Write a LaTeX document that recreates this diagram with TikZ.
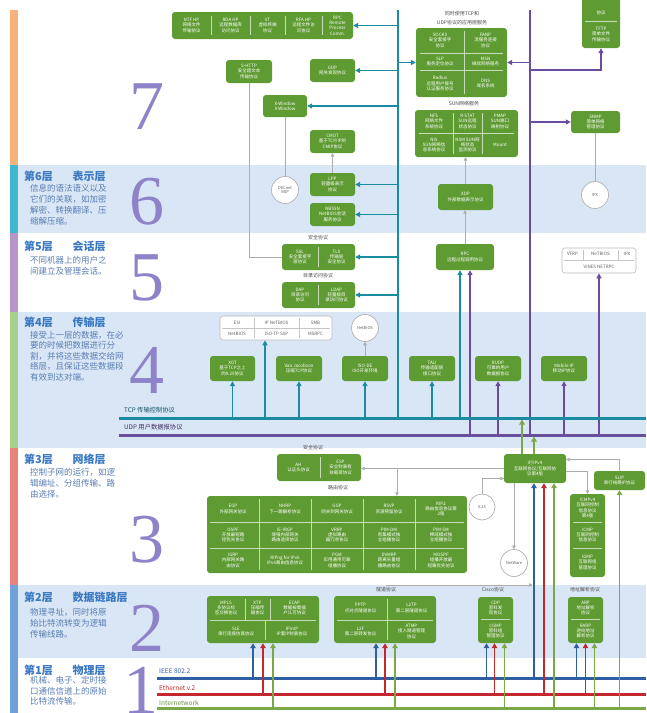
\documentclass[tikz,border=0pt]{standalone}
\usepackage{fontspec}
\setmainfont{Noto Sans CJK SC}
\newfontfamily\numfont{Liberation Serif}
\usetikzlibrary{arrows.meta,calc}
\definecolor{gbx}{HTML}{5E9C33}
\definecolor{tealc}{HTML}{1A8BA0}
\definecolor{purp}{HTML}{6A4D9C}
\definecolor{bandblue}{HTML}{D9E6F6}
\definecolor{numc}{HTML}{8E83C9}
\definecolor{titc}{HTML}{3A79C2}
\definecolor{descc}{HTML}{5A7DB3}
\definecolor{blu}{HTML}{2E5FA3}
\definecolor{redc}{HTML}{C4282E}
\definecolor{grn}{HTML}{7AA847}
\definecolor{sseven}{HTML}{F7B27A}
\definecolor{ssix}{HTML}{3DB8CF}
\definecolor{sfive}{HTML}{B794C9}
\definecolor{sfour}{HTML}{A8D08D}
\definecolor{sthree}{HTML}{E8837A}
\definecolor{stwo}{HTML}{6FA0D8}
\newcommand\bt{\fontsize{4.5}{5.4}\selectfont}
\newcommand\bts{\fontsize{4}{4.8}\selectfont}
\newcommand\bx[7]{\node[#6, minimum width={(#4)-(#2)}, minimum height={(#5)-(#3)}] (#1) at ({((#2)+(#4))/2},{((#3)+(#5))/2}) {#7};}
\begin{document}
\begin{tikzpicture}[x=1pt,y=-1pt,
 gb/.style={fill=gbx, rounded corners=3pt, inner sep=0pt, text=white, font=\bt, align=center},
 ct/.style={text=white, font=\bt, align=center, inner sep=0pt},
 wb/.style={draw=gray!55, fill=white, rounded corners=3pt, line width=0.6pt, inner sep=0pt},
 wt/.style={text=gray!75!black, font=\bt, align=center, inner sep=0pt},
 circ/.style={circle, draw=gray!60, fill=white, line width=0.7pt, text=gray!75!black, font=\bts, inner sep=0pt, minimum size=27pt, align=center},
 dv/.style={draw=white!65!gbx, line width=0.5pt},
 wdv/.style={draw=gray!45, line width=0.5pt},
 numstyle/.style={text=numc, font=\numfont\fontsize{70}{70}\selectfont, inner sep=0pt},
 ttl/.style={text=titc, font=\bfseries\fontsize{11}{13}\selectfont, anchor=west, inner sep=0pt},
 dsc/.style={text=descc, font=\fontsize{8.5}{11}\selectfont, anchor=north west, align=left, inner sep=0pt},
 lbl/.style={text=gray!60!black, font=\fontsize{5}{6}\selectfont, inner sep=0pt},
 tline/.style={draw=tealc, line width=1.6pt},
 pline/.style={draw=purp, line width=1.6pt},
 tarr/.style={tline, -{Triangle[length=5pt,width=5pt]}},
 parr/.style={pline, -{Triangle[length=5pt,width=5pt]}},
 garr/.style={draw=gray!65, line width=0.6pt, -{Triangle[length=3.5pt,width=3.5pt]}},
 gline/.style={draw=gray!65, line width=0.6pt},
 barr/.style={draw=blu, line width=1.8pt, -{Triangle[length=5pt,width=5.5pt]}},
 rarr/.style={draw=redc, line width=1.8pt, -{Triangle[length=5pt,width=5.5pt]}},
 narr/.style={draw=grn, line width=1.8pt, -{Triangle[length=5pt,width=5.5pt]}}
]
\useasboundingbox (0,0) rectangle (646,713);
\clip (0,0) rectangle (646,713);
\fill[white] (0,0) rectangle (646,713);
% bands
\fill[bandblue] (18,165) rectangle (646,233);
\fill[bandblue] (18,312) rectangle (646,448);
\fill[bandblue] (18,585) rectangle (646,658);
% stripes
\fill[sseven] (10,10) rectangle (18,165);
\fill[ssix] (10,165) rectangle (18,233);
\fill[sfive] (10,233) rectangle (18,312);
\fill[sfour] (10,312) rectangle (18,448);
\fill[sthree] (10,448) rectangle (18,585);
\fill[stwo] (10,585) rectangle (18,713);
% numerals
\node[numstyle] (n7) at (147,107) {7};
\node[numstyle] (n6) at (147,202) {6};
\node[numstyle] (n5) at (147,278) {5};
\node[numstyle] (n4) at (147,370) {4};
\node[numstyle] (n3) at (147,540) {3};
\node[numstyle] (n2) at (147,628) {2};
\node[numstyle] (n1) at (141,690) {1};
% titles
\node[ttl] (t6) at (24,176) {第6层\hspace{1.8em}表示层};
\node[dsc] (d6) at (30,184) {信息的语法语义以及\\它们的关联，如加密\\解密、转换翻译、压\\缩解压缩。};
\node[ttl] (t5) at (24,246) {第5层\hspace{1.8em}会话层};
\node[dsc] (d5) at (30,256) {不同机器上的用户之\\间建立及管理会话。};
\node[ttl] (t4) at (24,322) {第4层\hspace{1.8em}传输层};
\node[dsc,font=\fontsize{8.5}{10.5}\selectfont] (d4) at (30,331) {接受上一层的数据，在必\\要的时候把数据进行分\\割，并将这些数据交给网\\络层，且保证这些数据段\\有效到达对端。};
\node[ttl] (t3) at (24,459) {第3层\hspace{1.8em}网络层};
\node[dsc] (d3) at (30,468) {控制子网的运行，如逻\\辑编址、分组传输、路\\由选择。};
\node[ttl] (t2) at (24,597) {第2层\hspace{1.8em}数据链路层};
\node[dsc] (d2) at (30,608) {物理寻址，同时将原\\始比特流转变为逻辑\\传输线路。};
\node[ttl] (t1) at (24,670.5) {第1层\hspace{1.8em}物理层};
\node[dsc,font=\fontsize{8.5}{10.5}\selectfont] (d1) at (30,676.5) {机械、电子、定时接\\口通信信道上的原始\\比特流传输。};
% small labels
\node[lbl] (lb1) at (462,14) {同时使用TCP和};
\node[lbl] (lb2) at (462,22.5) {UDP协议的应用层服务};
\node[lbl] (lb3) at (464,104) {SUN网络服务};
\node[lbl] (lb4) at (318,238) {安全协议};
\node[lbl] (lb5) at (318,276) {目录访问协议};
\node[lbl] (lb6) at (313,448) {安全协议};
\node[lbl] (lb7) at (338,488) {路由协议};
\node[lbl] (lb8) at (386,590) {隧道协议};
\node[lbl] (lb9) at (493,590) {Cisco协议};
\node[lbl] (lb10) at (585,590) {地址解析协议};
% main coordinates
\coordinate (tT) at (398,10);
\coordinate (pT) at (530,10);
\coordinate (tcpL) at (119,418); \coordinate (tcpR) at (646,418); \coordinate (tcpB) at (119,419.5);
\coordinate (udpL) at (119,435); \coordinate (udpR) at (646,435); \coordinate (udpB) at (119,436.5);
\coordinate (blL) at (157,678); \coordinate (blR) at (646,678);
\coordinate (rdL) at (157,694); \coordinate (rdR) at (646,694);
\coordinate (gnL) at (157,708); \coordinate (gnR) at (646,708);
% ===== boxes =====
% layer 7
\bx{top5}{172}{12}{353}{39}{gb}{}
\draw[dv] (211,16) -- (211,35); \draw[dv] (250,16) -- (250,35); \draw[dv] (285,16) -- (285,35); \draw[dv] (322,16) -- (322,35);
\node[ct] (c71) at (191.5,25.5) {NTF HP\\网络文件\\传输协议};
\node[ct] (c72) at (230.5,25.5) {RDA HP\\远程数据库\\访问协议};
\node[ct] (c73) at (267.5,25.5) {VT\\虚拟终端\\协议};
\node[ct] (c74) at (303.5,25.5) {RFA HP\\远程文件访\\问协议};
\node[ct] (c75) at (337.5,25.5) {RPC\\Remote\\Process\\Comm.};
\bx{shttp}{226}{60}{272}{83}{gb}{S-HTTP\\安全超文本\\传输协议}
\bx{gdp}{310}{59}{355}{82}{gb}{GDP\\网关发现协议}
\bx{xwin}{263}{95}{307}{117}{gb}{X-Window\\X-Window}
\bx{cmot}{310}{130}{355}{153}{gb}{CMOT\\基于TCP/IP的\\CMIP协议}
\bx{ub}{416}{28}{507}{97}{gb}{}
\draw[dv] (464,31) -- (464,94); \draw[dv] (420,53) -- (503,53); \draw[dv] (420,70) -- (503,70);
\node[ct] (u1) at (440,40.5) {SOCKS\\安全套接字\\协议};
\node[ct] (u2) at (485.5,40.5) {FANP\\流服务连接\\协议};
\node[ct] (u3) at (440,61.5) {SLP\\服务定位协议};
\node[ct] (u4) at (485.5,61.5) {MSN\\微软网络服务};
\node[ct] (u5) at (440,83.5) {Radius\\远程用户拨号\\认证服务协议};
\node[ct] (u6) at (485.5,83.5) {DNS\\域名系统};
\bx{sun}{415}{110}{518}{157}{gb}{}
\draw[dv] (453,113) -- (453,154); \draw[dv] (482,113) -- (482,154); \draw[dv] (419,133) -- (514,133);
\node[ct] (s1) at (434,121.5) {NFS\\网络文件\\系统协议};
\node[ct] (s2) at (467.5,121.5) {R-STAT\\SUN远程\\状态协议};
\node[ct] (s3) at (500,121.5) {PMAP\\SUN端口\\映射协议};
\node[ct] (s4) at (434,145) {NIS\\SUN网络信\\息系统协议};
\node[ct] (s5) at (467.5,145) {NSM SUN网\\络状态\\监测协议};
\node[ct] (s6) at (500,145) {Mount};
\bx{tftp}{582}{-6}{620}{48}{gb}{}
\draw[dv] (585,21) -- (617,21);
\node[ct] (tf1) at (601,13) {协议};
\node[ct] (tf2) at (601,34.5) {TFTP\\简单文件\\传输协议};
\bx{snmp}{571}{111}{620}{133}{gb}{SNMP\\简单网络\\管理协议}
% layer 6
\node[circ] (decnet) at (285,190) {DECnet\\NSP};
\node[circ] (ipx) at (595,195) {IPX};
\bx{lpp}{310}{173}{355}{196}{gb}{LPP\\轻量级表示\\协议}
\bx{nbssn}{310}{203}{355}{226}{gb}{NBSSN\\NetBIOS会话\\服务协议}
\bx{xdp}{438}{184}{493}{210}{gb}{XDP\\外部数据表示协议}
% layer 5
\bx{ssltls}{282}{244}{355}{270}{gb}{}
\draw[dv] (318,247) -- (318,267);
\node[ct] (ssl) at (300,257) {SSL\\安全套接字\\层协议};
\node[ct] (tls) at (336.5,257) {TLS\\传输层\\安全协议};
\bx{dap}{282}{282}{355}{308}{gb}{}
\draw[dv] (318,285) -- (318,305);
\node[ct] (dapt) at (300,295) {DAP\\目录访问\\协议};
\node[ct] (ldapt) at (336.5,295) {LDAP\\轻量级目\\录访问协议};
\bx{rpc}{436}{244}{494}{270}{gb}{RPC\\远程过程调用协议}
\bx{vines}{562}{248}{636}{273}{wb}{}
\draw[wdv] (564,260) -- (634,260); \draw[wdv] (583,250) -- (583,260); \draw[wdv] (618,250) -- (618,260);
\node[wt] (v1) at (572.5,254) {VFRP};
\node[wt] (v2) at (600.5,254) {NeTBIOS};
\node[wt] (v3) at (627,254) {IPX};
\node[wt] (v4) at (599,266.5) {VINES NETRPC};
% layer 4
\bx{isob}{220}{316}{332}{340}{wb}{}
\draw[wdv] (254,318) -- (254,338); \draw[wdv] (299,318) -- (299,338); \draw[wdv] (222,328) -- (330,328);
\node[wt] (i1) at (237,322.5) {ESI};
\node[wt] (i2) at (276.5,322.5) {IP NeTBIOS};
\node[wt] (i3) at (315.5,322.5) {SMB};
\node[wt] (i4) at (237,334) {NetBIOS};
\node[wt] (i5) at (276.5,334) {ISO-TP SSP};
\node[wt] (i6) at (315.5,334) {MSRPC};
\node[circ] (netbios) at (365,328) {NetBIOS};
\bx{xot}{210}{356}{255}{381}{gb}{XOT\\基于TCP之上\\的X.25协议}
\bx{vanj}{276}{356}{322}{381}{gb}{Van Jacobson\\压缩TCP协议}
\bx{isode}{342}{356}{388}{381}{gb}{ISO-DE\\ISO开发环境}
\bx{tali}{409}{356}{455}{381}{gb}{TALI\\传输适配层\\接口协议}
\bx{rudp}{475}{356}{521}{381}{gb}{RUDP\\可靠的用户\\数据报协议}
\bx{mobip}{541}{356}{587}{381}{gb}{Mobile IP\\移动IP协议}
% layer 3
\bx{ahesp}{277}{454}{361}{481}{gb}{}
\draw[dv] (320,457) -- (320,478);
\node[ct] (aht) at (298.5,467.5) {AH\\认证头协议};
\node[ct] (espt) at (340.5,467.5) {ESP\\安全封装有\\效载荷协议};
\bx{route}{207}{496}{467}{573}{gb}{}
\foreach \xx in {259,311,363,415} {\draw[dv] (\xx,499) -- (\xx,570);}
\draw[dv] (210,522) -- (464,522); \draw[dv] (210,548) -- (464,548);
\node[ct] (r11) at (233,509) {EGP\\外部网关协议};
\node[ct] (r12) at (285,509) {NHRP\\下一跳解析协议};
\node[ct] (r13) at (337,509) {GGP\\网关到网关协议};
\node[ct] (r14) at (389,509) {RSVP\\资源预留协议};
\node[ct] (r15) at (441,509) {RIP2\\路由信息协议第\\2版};
\node[ct] (r21) at (233,535) {OSPF\\开放最短路\\径优先协议};
\node[ct] (r22) at (285,535) {IE-IRGP\\增强内部网关\\路由选择协议};
\node[ct] (r23) at (337,535) {VRRP\\虚拟路由\\器冗余协议};
\node[ct] (r24) at (389,535) {PIM-DM\\密集模式独\\立组播协议};
\node[ct] (r25) at (441,535) {PIM-SM\\稀疏模式独\\立组播协议};
\node[ct] (r31) at (233,560.5) {IGRP\\内部网关路\\由协议};
\node[ct] (r32) at (285,560.5) {RIPng for IPv6\\IPv6路由信息协议};
\node[ct] (r33) at (337,560.5) {PGM\\实用通用可靠\\组播协议};
\node[ct] (r34) at (389,560.5) {DVMRP\\距离矢量组\\播路由协议};
\node[ct] (r35) at (441,560.5) {MOSPF\\组播开放最\\短路优先协议};
\bx{ip}{504}{454}{566}{483}{gb}{IP/IPv4\\互联网协议/互联网协\\议第4版}
\node[circ, minimum size=26pt] (x25) at (482,507) {X.25};
\node[circ] (netware) at (514,563) {NetWare};
\bx{icmp}{570}{494}{605}{577}{gb}{}
\draw[dv] (573,522) -- (602,522); \draw[dv] (573,548) -- (602,548);
\node[ct] (ic1) at (587.5,508) {ICMPv4\\互联网控制\\信息协议\\第4版};
\node[ct] (ic2) at (587.5,535) {ICMP\\互联网控制\\信息协议};
\node[ct] (ic3) at (587.5,562.5) {IGMP\\互联网组\\管理协议};
\bx{slip}{594}{471}{645}{490}{gb}{SLIP\\串行线路IP协议}
% layer 2
\bx{ltwo}{207}{596}{319}{643}{gb}{}
\draw[dv] (245,599) -- (245,620); \draw[dv] (270,599) -- (270,620); \draw[dv] (210,620) -- (316,620); \draw[dv] (265,620) -- (265,640);
\node[ct] (m1) at (226,608) {MPLS\\多协议标\\签交换协议};
\node[ct] (m2) at (257.5,608) {XTP\\压缩传\\输协议};
\node[ct] (m3) at (294.5,608) {ECAP\\数据按需插\\户认可协议};
\node[ct] (m4) at (236,631.5) {SLE\\串行连接仿真协议};
\node[ct] (m5) at (292,631.5) {IPinIP\\IP套IP封装协议};
\bx{tun}{334}{596}{436}{643}{gb}{}
\draw[dv] (387,599) -- (387,640); \draw[dv] (337,620) -- (433,620);
\node[ct] (p1) at (360.5,608) {PPTP\\点对点隧道协议};
\node[ct] (p2) at (411.5,608) {L2TP\\第二层隧道协议};
\node[ct] (p3) at (360.5,631.5) {L2F\\第二层转发协议};
\node[ct] (p4) at (411.5,631.5) {ATMP\\接入隧道管理\\协议};
\bx{cisco}{478}{597}{513}{643}{gb}{}
\draw[dv] (481,619) -- (510,619);
\node[ct] (cs1) at (495.5,608) {CDP\\思科发\\现协议};
\node[ct] (cs2) at (495.5,631) {CGMP\\思科组\\管理协议};
\bx{arp}{568}{597}{603}{643}{gb}{}
\draw[dv] (571,619) -- (600,619);
\node[ct] (ar1) at (585.5,608) {ARP\\地址解析\\协议};
\node[ct] (ar2) at (585.5,631) {RARP\\逆向地址\\解析协议};
% ===== connectors =====
% teal main and branches
\draw[tline] (tT) -- (tT |- tcpL);
\draw[tarr] (tT |- top5.east) -- (top5.east);
\draw[tarr] (tT |- gdp.east) -- (gdp.east);
\draw[tarr] (tT |- xwin.east) -- (xwin.east);
\draw[tarr] (tT |- lpp.east) -- (lpp.east);
\draw[tarr] (tT |- nbssn.east) -- (nbssn.east);
\draw[tarr] (tT |- ssltls.east) -- (ssltls.east);
\draw[tarr] (tT |- dap.east) -- (dap.east);
\draw[tarr] (tT |- ub.west) -- (ub.west);
% purple main and branches
\draw[pline] (pT) -- (pT |- udpL);
\draw[parr] (pT |- ub.east) -- (ub.east);
\coordinate (pb1) at (530,70);
\draw[parr] (pb1) -| (tftp.south);
\draw[parr] (pT |- snmp.west) -- (snmp.west);
% gray lines upper
\draw[gline] (shttp.south) |- (ssltls.west);
\draw[gline] (xwin.south) -- (decnet.north);
\draw[garr] (lpp.north) -- (cmot.south);
\draw[garr] (xdp.north) -- (xdp.north |- sun.south);
\draw[garr] (rpc.north) -- (rpc.north |- xdp.south);
\draw[gline] (snmp.south) -- (snmp.south |- ipx.north);
\draw[garr] (isode.north) -- (netbios.south);
% transport arrows
\draw[tarr] (xot.south |- tcpL) -- (xot.south);
\draw[tarr] ([xshift=-11pt]isob.south |- tcpL) -- ([xshift=-11pt]isob.south);
\draw[tarr] (vanj.south |- tcpL) -- (vanj.south);
\draw[tarr] (isode.south |- tcpL) -- (isode.south);
\draw[tarr] (tali.south |- tcpL) -- (tali.south);
\draw[tarr] ([xshift=-5pt]rpc.south |- tcpL) -- ([xshift=-5pt]rpc.south);
\draw[parr] ([xshift=5pt]rpc.south |- udpL) -- ([xshift=5pt]rpc.south);
\draw[parr] (rudp.south |- udpL) -- (rudp.south);
\draw[parr] (mobip.south |- udpL) -- (mobip.south);
\draw[parr] (vines.south |- udpL) -- (vines.south);
% TCP / UDP lines
\draw[draw=tealc, line width=3pt] (tcpL) -- (tcpR);
\draw[draw=purp, line width=3pt] (udpL) -- (udpR);
\node[anchor=west, inner sep=0pt, text=tealc!60!black, font=\fontsize{6.3}{7}\selectfont] (tcplbl) at (124,410.5) {TCP 传输控制协议};
\node[anchor=west, inner sep=0pt, text=purp!60!black, font=\fontsize{6.3}{7}\selectfont] (udplbl) at (124,427.5) {UDP 用户数据报协议};
% IP up arrows
\draw[narr] ([xshift=-13pt]ip.north) -- ([xshift=-13pt]ip.north |- tcpB);
\draw[narr] ([xshift=-1pt]ip.north) -- ([xshift=-1pt]ip.north |- udpB);
% layer 3 gray
\draw[garr] (ip.west) -- (ip.west -| ahesp.east);
\coordinate (rb) at (397,468.5);
\draw[garr] (rb) -- (rb |- route.north);
\draw[garr] (x25.north) |- ([yshift=-10pt]ip.west);
\draw[garr] ([xshift=-21pt]ip.south) -- ([xshift=-21pt]ip.south |- netware.north);
\draw[garr] ([yshift=-3pt]ip.east) -| (icmp.north);
\draw[garr] (slip.north) |- ([yshift=9pt]ip.east);
% layer 2 gray
\coordinate (tg) at (386,585);
\draw[garr] (tg) -- ([xshift=-2.5pt]ip.south |- tg);
% physical lines
\draw[draw=blu, line width=3pt] (blL) -- (blR);
\draw[draw=redc, line width=3pt] (rdL) -- (rdR);
\draw[draw=grn, line width=3pt] (gnL) -- (gnR);
\node[anchor=west, inner sep=0pt, text=blu, font=\fontsize{6.5}{7}\selectfont] (ieee) at (159,671.5) {IEEE 802.2};
\node[anchor=west, inner sep=0pt, text=redc, font=\fontsize{6.5}{7}\selectfont] (eth) at (159,687.5) {Ethernet v.2};
\node[anchor=west, inner sep=0pt, text=grn!85!black, font=\fontsize{6.5}{7}\selectfont] (inet) at (159,702.5) {Internetwork};
% physical arrows
\foreach \bn/\bs/\rs/\gs in {ltwo/-10/0/10, tun/-9/0/10, cisco/-9/-1/9, arp/-9/0/9} {
  \draw[barr] ([xshift=\bs pt]\bn.south |- blL) -- ([xshift=\bs pt]\bn.south);
  \draw[rarr] ([xshift=\rs pt]\bn.south |- rdL) -- ([xshift=\rs pt]\bn.south);
  \draw[narr] ([xshift=\gs pt]\bn.south |- gnL) -- ([xshift=\gs pt]\bn.south);
}
\draw[barr] ([xshift=-1pt]ip.south |- blL) -- ([xshift=-1pt]ip.south);
\draw[rarr] ([xshift=9pt]ip.south |- rdL) -- ([xshift=9pt]ip.south);
\draw[narr] ([xshift=19pt]ip.south |- gnL) -- ([xshift=19pt]ip.south);
\draw[narr] (slip.south |- gnL) -- (slip.south);
\end{tikzpicture}
\end{document}
